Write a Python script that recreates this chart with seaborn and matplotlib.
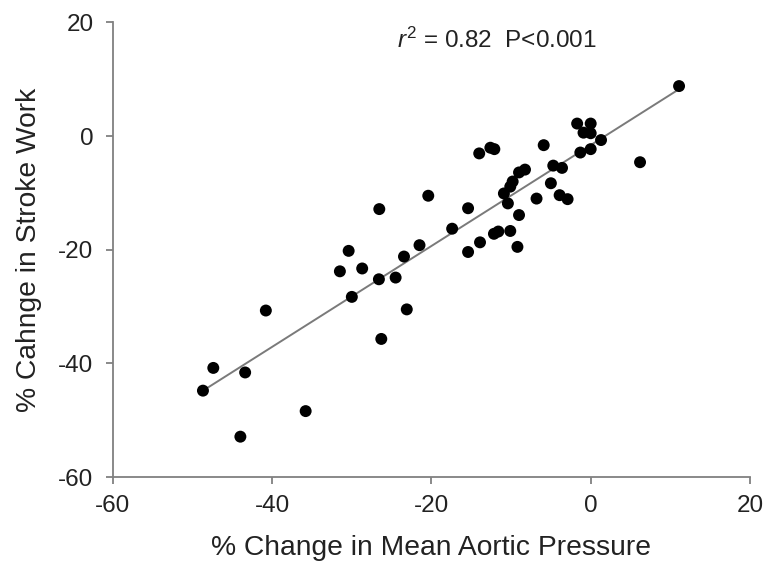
import matplotlib
matplotlib.use("Agg")
import matplotlib.pyplot as plt
import seaborn as sns
import pandas as pd

# % change in mean aortic pressure
pressure_change = [11.1, 6.2, -1.7, 0.0, -0.9, 0.0, 1.3, 0.0, -1.3, -5.9,
                   -4.7, -3.6, -5.0, -3.9, -2.9, -6.8, -14.0, -12.6, -12.1, -8.25,
                   -9.0, -9.8, -10.1, -10.9, -10.4, -9.0, -15.4, -20.4, -17.4, -10.1,
                   -11.6, -12.15, -13.9, -15.4, -9.2, -21.5, -23.45, -24.5, -26.6, -28.7,
                   -30.4, -31.5, -30.0, -23.1, -26.3, -26.55, -40.8, -47.4, -43.4, -48.7,
                   -35.8, -44.0]
# % change in stroke work
stroke_work_change = [8.8, -4.6, 2.2, 2.2, 0.6, 0.5, -0.7, -2.3, -2.9, -1.6,
                      -5.2, -5.6, -8.3, -10.4, -11.1, -11.0, -3.05, -2.05, -2.3, -5.9,
                      -6.4, -8.0, -8.9, -10.1, -11.85, -13.9, -12.7, -10.5, -16.3, -16.7,
                      -16.8, -17.2, -18.7, -20.4, -19.5, -19.2, -21.2, -24.9, -25.2, -23.3,
                      -20.2, -23.8, -28.3, -30.5, -35.7, -12.85, -30.7, -40.8, -41.6, -44.8,
                      -48.4, -52.9]
x_ticks = [-60, -40, -20, 0, 20]
y_ticks = [-60, -40, -20, 0, 20]

df = pd.DataFrame({"x": pressure_change, "y": stroke_work_change})

sns.set_style("white")
plt.rcParams["font.family"] = ["Liberation Sans", "DejaVu Sans"]
plt.rcParams["mathtext.fontset"] = "custom"
plt.rcParams["mathtext.rm"] = "Liberation Sans"
plt.rcParams["mathtext.it"] = "Liberation Sans:italic"

fig = plt.figure(figsize=(7.66, 5.75), dpi=100)
ax = fig.add_axes([0.1475, 0.1704, 0.8315, 0.7906])

sns.regplot(data=df, x="x", y="y", ax=ax, ci=None, truncate=True,
            scatter_kws=dict(s=74, color="black", edgecolor="none", alpha=1, zorder=3),
            line_kws=dict(color="#7a7a7a", lw=1.4, zorder=2))

ax.set_xlim(-60, 20)
ax.set_ylim(-60, 20)
ax.set_xticks(x_ticks)
ax.set_yticks(y_ticks)
ax.set_xticklabels([str(v) for v in x_ticks])
ax.set_yticklabels([str(v) for v in y_ticks])

for s in ["top", "right"]:
    ax.spines[s].set_visible(False)
for s in ["left", "bottom"]:
    ax.spines[s].set_color("#808080")
    ax.spines[s].set_linewidth(1.3)
ax.tick_params(axis="both", direction="out", length=5, width=1.3, color="#808080",
               bottom=True, left=True, labelsize=17.5, labelcolor="#222222")
ax.tick_params(axis="x", pad=8)
ax.tick_params(axis="y", pad=9)

ax.set_xlabel("% Change in Mean Aortic Pressure", fontsize=20.3, color="#222222", labelpad=13)
ax.set_ylabel("% Cahnge in Stroke Work", fontsize=20.3, color="#222222", labelpad=12)

ax.text(-24.3, 15.5, r"$\mathit{r}^{2}$ = 0.82  P<0.001", fontsize=17.5,
        color="#222222", va="baseline", ha="left")

fig.savefig("out.png", dpi=100)
